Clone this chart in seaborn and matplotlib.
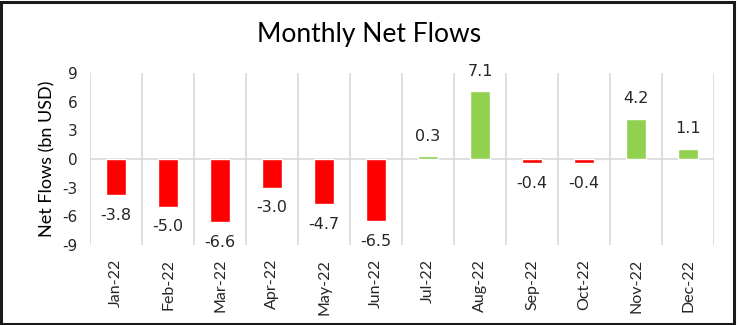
import matplotlib
matplotlib.use("Agg")
import matplotlib.pyplot as plt
import seaborn as sns
import numpy as np
import pandas as pd
from matplotlib.ticker import FixedLocator
from matplotlib.patches import Rectangle

months = ["Jan-22", "Feb-22", "Mar-22", "Apr-22", "May-22", "Jun-22",
          "Jul-22", "Aug-22", "Sep-22", "Oct-22", "Nov-22", "Dec-22"]
flows = [-3.8, -5.0, -6.6, -3.0, -4.7, -6.5, 0.3, 7.1, -0.4, -0.4, 4.2, 1.1]
yticks = [-9, -6, -3, 0, 3, 6, 9]

sns.set_theme(style="white")
plt.rcParams['font.family'] = ['DejaVu Sans']

df = pd.DataFrame({"month": months, "flow": flows})
df["sign"] = np.where(df["flow"] >= 0, "pos", "neg")

fig = plt.figure(figsize=(7.38, 3.25), dpi=100)
ax = fig.add_axes([0.122, 0.246, 0.8455, 0.529])

sns.barplot(data=df, x="month", y="flow", hue="sign",
            palette={"pos": "#92D050", "neg": "#FF0000"},
            dodge=False, width=0.4, legend=False, ax=ax, saturation=1)

ax.set_xlim(-0.5, 11.5)
ax.set_ylim(-9, 9)
ax.set_yticks(yticks)
ax.set_yticklabels([str(t) for t in yticks], fontsize=11, color="#262626")
ax.xaxis.set_minor_locator(FixedLocator(np.arange(-0.5, 12, 1)))
ax.grid(which="minor", axis="x", color="#d9d9d9", linewidth=1.2)
ax.grid(which="major", axis="x", visible=False)
ax.axhline(0, color="#d9d9d9", linewidth=1.2, zorder=0.5)
ax.set_axisbelow(True)
for s in ax.spines.values():
    s.set_visible(False)
ax.tick_params(axis="both", which="both", length=0)
ax.tick_params(axis="x", pad=10)
ax.tick_params(axis="y", pad=9)
ax.set_xticks(range(len(months)))
ax.set_xticklabels(months, rotation=90, fontsize=11.5, family="Lato", color="#262626")
ax.set_xlabel("")
ax.set_ylabel("Net Flows (bn USD)", fontsize=13, family="Lato", color="#000000", labelpad=5)

for i, v in enumerate(flows):
    off = 14.5 if v >= 0 else -14.5
    ax.annotate(f"{v:.1f}", (i, v), xytext=(0, off), textcoords="offset points",
                ha="center", va="center", fontsize=11.5, color="#262626")

fig.text(0.5, 0.895, "Monthly Net Flows", ha="center", va="center",
         fontsize=19, family="Lato", color="#000000")

fig.patches.append(Rectangle((0.002, 0.003), 0.993, 0.992, transform=fig.transFigure,
                             fill=False, edgecolor="#1a1a1a", linewidth=2.2))

fig.savefig("out.png", dpi=100)
